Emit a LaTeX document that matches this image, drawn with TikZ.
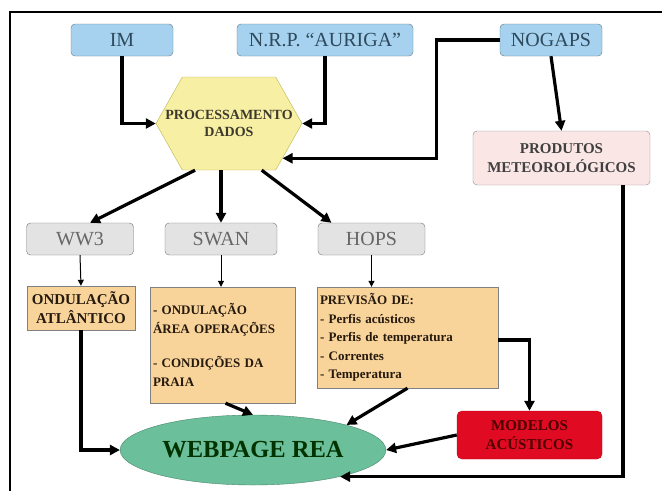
\documentclass[tikz,border=0pt]{standalone}
\usepackage{fontspec}
\setmainfont{Liberation Serif}
\usetikzlibrary{arrows.meta,shapes.symbols,shapes.geometric,calc}
\definecolor{fonteazul}{HTML}{A6D2EF}
\definecolor{fonteborda}{HTML}{5F7585}
\definecolor{fontetexto}{HTML}{2E4A5C}
\definecolor{hexamarelo}{HTML}{F7EFA3}
\definecolor{modcinza}{HTML}{E3E3E3}
\definecolor{saidalaranja}{HTML}{F8D49B}
\definecolor{prodrosa}{HTML}{FBE6E6}
\definecolor{acusvermelho}{HTML}{E00A22}
\definecolor{webverde}{HTML}{6BBF9A}
\begin{document}
\begin{tikzpicture}[x=1pt,y=-1pt,
  fonte/.style={draw=fonteborda,fill=fonteazul,rounded corners=4,minimum height=32,
    text=fontetexto,font=\fontsize{20}{22}\selectfont,inner sep=2},
  modelo/.style={draw=black!55,fill=modcinza,rounded corners=4,minimum width=107,minimum height=32,
    text=black!60,font=\fontsize{20}{22}\selectfont},
  saida/.style={draw=black!50,fill=saidalaranja,text=black!80!brown,
    font=\fontsize{13}{18.5}\selectfont\bfseries,inner sep=3},
  grosso/.style={line width=3.2,-{Triangle[length=10,width=10]}},
  fino/.style={line width=1,-{Triangle[length=6,width=6]}}]
\useasboundingbox (0,0) rectangle (662,491);
\draw[line width=1.2] (10,491) -- (10,12) -- (662,12);
% fontes de dados
\node[fonte,minimum width=102] (im) at (122,40) {IM};
\node[fonte,minimum width=176] (auriga) at (325,40) {N.R.P. “AURIGA”};
\node[fonte,minimum width=102] (nogaps) at (551,40) {NOGAPS};
\node[signal,signal to=west and east,signal pointer angle=121,draw=olive!60,fill=hexamarelo,
  minimum width=146,minimum height=93,inner sep=0,
  label={[align=center,text=black!75!olive,font=\fontsize{14}{17}\selectfont\bfseries]center:PROCESSAMENTO\\DADOS}]
  (hexa) at (229,123.5) {};
\node[draw=black!45,fill=prodrosa,rounded corners=4,minimum width=177,minimum height=54,align=center,
  text=black!75,font=\fontsize{15}{19}\selectfont\bfseries] (produtos) at (561.5,158) {PRODUTOS\\METEOROLÓGICOS};
% modelos
\node[modelo] (ww3) at (80,239) {WW3};
\node[modelo,minimum width=112] (swan) at (221,239) {SWAN};
\node[modelo] (hops) at (371.5,239) {HOPS};
\node[saida,minimum width=108,minimum height=44,align=center,inner sep=1,font=\fontsize{15}{19}\selectfont\bfseries] (ond) at (81,308) {ONDULAÇÃO\\ATLÂNTICO};
\node[saida,minimum width=145,minimum height=116,text width=139,align=left] (swanbox) at (222.5,345)
  {- ONDULAÇÃO\\ÁREA OPERAÇÕES\\[16pt]- CONDIÇÕES DA\\PRAIA};
\node[saida,minimum width=181,minimum height=101,text width=175,align=left] (hopsbox) at (407.5,337.5)
  {PREVISÃO DE:\\- Perfis acústicos\\- Perfis de temperatura\\- Correntes\\- Temperatura};
\node[draw=acusvermelho!80!black,fill=acusvermelho,rounded corners=5,minimum width=145,minimum height=48,
  align=center,text=black!70!red,font=\fontsize{15}{19}\selectfont\bfseries] (modelos) at (529.5,435) {MODELOS\\ACÚSTICOS};
\node[ellipse,draw=webverde!70!black,fill=webverde,minimum width=256,minimum height=70,
  text=black!80!green,font=\fontsize{24.5}{27}\selectfont\bfseries] (web) at (253,450) {WEBPAGE REA};
% ligacoes
\draw[grosso] (im.south) |- (hexa.west);
\draw[grosso] (auriga.south) |- (hexa.east);
\draw[grosso] (nogaps.west) -- ++(-63,0) |- (hexa.-33);
\draw[grosso] (nogaps.south) -- (produtos.north);
\draw[grosso] (hexa.-126) -- ($(ww3.north)+(10,0)$);
\draw[grosso] (hexa.south -| swan.north) -- (swan.north);
\draw[grosso] (hexa.-55) -- ($(hops.north)+(-40,0)$);
\draw[fino] (ww3.south) -- (ond.north);
\draw[fino] (swan.south) -- (swan.south |- swanbox.north);
\draw[fino] (hops.south) -- (hops.south |- hopsbox.north);
\draw[grosso] (ond.south) |- (web.west);
\draw[grosso] ($(swanbox.south)+(3,0)$) -- (web.north);
\draw[grosso] (hopsbox.south) -- (web.15);
\draw[grosso] ($(hopsbox.east)+(0,2.5)$) -| (modelos.north);
\draw[grosso] (modelos.west) -- (web.east);
\draw[grosso] ($(produtos.south)+(61.5,0)$) |- (web.-17);
\end{tikzpicture}
\end{document}
